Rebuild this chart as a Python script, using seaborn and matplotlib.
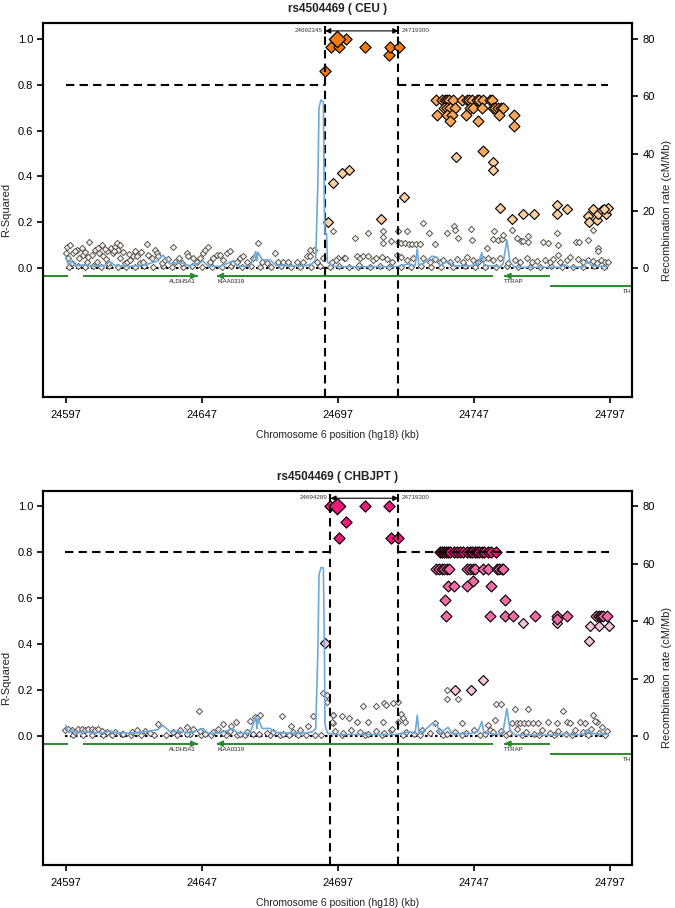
import matplotlib
matplotlib.use("Agg")
import matplotlib.pyplot as plt
import seaborn as sns
import pandas as pd

# ---------------------------------------------------------------- axes / ticks
xticks = [24597, 24647, 24697, 24747, 24797]
r2_ticks = [0.0, 0.2, 0.4, 0.6, 0.8, 1.0]
rec_ticks = [0, 20, 40, 60, 80]
xlim = (24588.9, 24805.1)
r2_lim = (-0.562, 1.068)
rec_scale = 80          # 1.0 r2 <-> 80 cM/Mb

# ---------------------------------------------------------------- genes (kb)
gene_names = ["", "ALDH5A1", "KIAA0319", "TTRAP", "TH"]
gene_start = [24570.0, 24603.3, 24652.5, 24758.1, 24775.0]
gene_end = [24598.0, 24645.5, 24754.1, 24775.0, 24830.0]
gene_strand = ["-", "+", "-", "-", "+"]
gene_row = [0, 0, 0, 0, 1]
gene_label_x = [None, 24635.0, 24652.7, 24758.1, 24801.8]

# ---------------------------------------------------------------- recombination rate (cM/Mb)
rec_pos = [24597.1, 24598.0, 24599.4, 24600.8, 24604.1, 24607.8, 24611.5, 24613.3, 24615.1, 24620.7,
           24626.2, 24630.9, 24632.8, 24635.3, 24639.0, 24642.7, 24647.5, 24649.3, 24653.7, 24658.5,
           24660.3, 24664.7, 24666.9, 24667.3, 24667.7, 24669.2, 24672.1, 24674.3, 24679.4, 24684.9,
           24687.5, 24688.9, 24689.7, 24690.1, 24690.8, 24691.7, 24692.1, 24692.3, 24692.9, 24693.2,
           24696.0, 24718.0, 24719.8, 24723.5, 24725.4, 24726.2, 24726.8, 24729.0, 24731.6, 24733.5,
           24734.5, 24737.5, 24739.0, 24745.6, 24748.5, 24749.9, 24750.7, 24756.6, 24757.7, 24759.1,
           24760.3, 24762.1, 24778.6, 24780.4, 24782.3, 24787.4, 24788.5, 24790.4, 24796.3]
rec_ceu = [4.0, 1.0, 2.5, 0.8, 1.2, 0.6, 1.0, 2.3, 1.0, 0.6,
           1.2, 2.5, 4.6, 1.5, 2.0, 0.8, 2.4, 0.8, 0.6, 2.5,
           0.7, 0.6, 5.8, 2.5, 5.5, 3.0, 2.8, 1.0, 0.8, 0.8,
           1.5, 3.0, 30.0, 56.0, 58.7, 58.0, 20.0, 12.3, 12.0, 2.0,
           0.5, 0.5, 0.8, 1.5, 0.8, 6.7, 1.0, 2.0, 4.2, 3.8,
           0.8, 2.5, 0.8, 0.8, 1.5, 5.4, 1.0, 0.5, 1.5, 9.9,
           2.0, 0.3, 0.3, 1.2, 0.3, 0.5, 2.5, 0.8, 0.5]
rec_asn = [3.7, 1.2, 2.0, 1.0, 1.4, 1.0, 1.2, 1.8, 1.2, 1.0,
           1.4, 2.2, 3.7, 1.5, 1.6, 1.0, 2.6, 1.0, 1.0, 2.5,
           1.0, 0.9, 6.6, 2.5, 6.0, 2.6, 2.6, 1.2, 1.0, 1.0,
           1.4, 2.5, 30.0, 56.0, 58.6, 58.6, 30.0, 4.0, 2.0, 1.0,
           0.5, 0.5, 0.8, 1.5, 0.8, 7.2, 1.0, 2.0, 4.3, 3.8,
           0.8, 3.0, 0.8, 0.8, 1.5, 5.0, 1.0, 0.5, 1.5, 9.5,
           2.0, 0.3, 0.3, 1.0, 0.3, 0.5, 2.2, 0.8, 0.5]

# ---------------------------------------------------------------- CEU SNPs (position kb, r2)
ceu_index = (24696.8, 1.0)
ceu_bounds = (24692.345, 24719.300)
ceu_high = [(24692.3, .862), (24694.4, .966), (24697.6, .964), (24700.0, 1.0), (24707.0, .966),
            (24715.9, .930), (24716.2, .966), (24719.4, .966)]
ceu_mid = [(24733.1, .734), (24735.2, .734), (24736.4, .734), (24737.0, .734), (24738.0, .734),
           (24739.4, .734), (24742.5, .734), (24744.4, .734), (24745.3, .734), (24746.2, .734),
           (24748.0, .734), (24749.0, .734), (24750.5, .734), (24752.9, .734), (24753.5, .734),
           (24736.0, .698), (24737.0, .698), (24738.2, .698), (24740.1, .698), (24745.6, .698),
           (24746.8, .698), (24749.9, .698), (24753.9, .698), (24754.8, .698), (24756.0, .698),
           (24756.9, .698), (24757.8, .698), (24733.6, .669), (24737.0, .669), (24738.8, .669),
           (24744.0, .669), (24756.4, .669), (24761.8, .669), (24738.2, .642), (24748.4, .642),
           (24761.7, .618), (24750.2, .513)]
ceu_light = [(24740.3, .487), (24754.1, .465), (24754.1, .429), (24701.1, .430), (24698.4, .414),
             (24695.4, .373), (24721.3, .310), (24693.5, .203), (24712.8, .214), (24756.6, .264),
             (24761.1, .215), (24765.2, .235), (24769.2, .235), (24777.4, .276), (24777.6, .235),
             (24781.3, .259), (24789.0, .228), (24789.4, .203), (24790.9, .259), (24792.1, .208),
             (24792.7, .235), (24793.9, .254), (24795.5, .235), (24796.4, .264), (24794.8, .260)]
ceu_low_left = [(24597.4, .094), (24598.6, .102), (24597.2, .065), (24598.0, .044), (24599.2, .022),
                (24599.9, .065), (24601.1, .080), (24602.1, .044), (24602.9, .087), (24603.5, .058),
                (24604.8, .029), (24605.7, .112), (24606.6, .058), (24607.8, .080), (24608.4, .029),
                (24609.4, .065), (24610.3, .102), (24610.9, .051), (24612.1, .073), (24612.7, .022),
                (24613.6, .087), (24614.3, .065), (24615.2, .094), (24615.8, .109), (24616.4, .080),
                (24617.0, .044), (24618.8, .022), (24619.7, .029), (24620.7, .036), (24621.9, .051),
                (24623.1, .054), (24624.4, .022), (24625.6, .029), (24626.8, .106), (24627.4, .058),
                (24628.6, .044), (24629.9, .080), (24630.5, .065), (24631.1, .051), (24632.3, .022),
                (24633.5, .036), (24634.8, .039), (24636.4, .094), (24637.2, .029), (24638.8, .044),
                (24639.7, .022), (24641.5, .065), (24642.1, .054), (24644.0, .044), (24645.2, .029),
                (24646.4, .044), (24647.6, .065), (24648.3, .080), (24649.5, .094), (24650.1, .029),
                (24651.3, .044), (24652.5, .058), (24653.8, .058), (24655.0, .036), (24656.2, .065),
                (24657.4, .073), (24658.7, .022), (24659.9, .029), (24661.1, .044), (24662.3, .051),
                (24663.6, .029), (24666.0, .044), (24667.8, .109), (24669.1, .029), (24670.9, .022),
                (24674.0, .068), (24675.2, .029), (24677.0, .025), (24678.9, .029), (24681.9, .025),
                (24684.4, .029), (24685.6, .051), (24686.8, .054), (24688.1, .080), (24689.3, .029),
                (24691.7, .044), (24600.5, .075), (24604.0, .070), (24608.9, .090), (24611.4, .085),
                (24614.8, .075), (24616.9, .100), (24618.2, .070), (24620.2, .060), (24622.6, .075),
                (24624.9, .070), (24611.9, .040), (24605.2, .050)]
ceu_low_right = [(24695.3, .160), (24703.3, .131), (24708.2, .153), (24713.5, .160), (24713.7, .135),
                 (24713.7, .109), (24716.4, .119), (24719.2, .160), (24719.2, .116), (24720.4, .109),
                 (24722.3, .160), (24721.7, .109), (24723.1, .106), (24724.4, .106), (24725.6, .106),
                 (24727.1, .106), (24728.4, .199), (24730.6, .153), (24732.7, .106), (24737.0, .153),
                 (24739.7, .182), (24740.0, .167), (24741.3, .131), (24745.8, .170), (24746.2, .124),
                 (24751.7, .087), (24754.5, .163), (24754.1, .126), (24756.0, .124), (24757.2, .126),
                 (24757.8, .145), (24760.9, .167), (24763.0, .131), (24764.2, .119), (24765.2, .119),
                 (24767.0, .141), (24767.0, .116), (24772.5, .116), (24774.3, .109), (24777.6, .153),
                 (24778.0, .102), (24778.0, .058), (24784.4, .115), (24785.7, .115), (24789.0, .124),
                 (24790.6, .167), (24792.7, .087), (24792.7, .073), (24686.8, .080), (24697.2, .044),
                 (24699.4, .044), (24704.9, .014),
                 (24694.7, .029), (24696.5, .036), (24699.6, .044), (24703.9, .051), (24705.1, .044),
                 (24706.4, .054), (24708.2, .051), (24710.0, .036), (24711.2, .044), (24713.1, .048),
                 (24714.9, .039), (24716.8, .029), (24718.6, .058), (24720.4, .048), (24722.3, .036),
                 (24724.7, .044), (24728.4, .044), (24730.9, .029), (24732.7, .039), (24734.5, .029),
                 (24735.8, .036), (24738.2, .025), (24740.7, .039), (24743.1, .029), (24744.3, .048),
                 (24746.8, .036), (24748.6, .029), (24750.4, .039), (24752.3, .044), (24754.1, .036),
                 (24756.6, .044), (24759.6, .022), (24762.1, .036), (24763.9, .029), (24766.4, .044),
                 (24768.2, .025), (24770.1, .032), (24773.1, .036), (24775.0, .025), (24776.2, .039),
                 (24778.6, .029), (24781.1, .036), (24782.3, .048), (24785.4, .039), (24787.2, .025),
                 (24789.0, .036), (24790.9, .032), (24792.1, .022), (24793.6, .036), (24795.2, .029),
                 (24796.4, .025)]
ceu_base = [(24598.3, .006), (24601.6, .010), (24604.3, .004), (24607.1, .008), (24609.9, .005),
            (24613.0, .009), (24616.1, .004), (24619.2, .007), (24622.4, .005), (24625.9, .010),
            (24629.2, .004), (24632.9, .008), (24636.0, .006), (24640.3, .004), (24643.4, .009),
            (24647.0, .005), (24650.8, .007), (24654.3, .004), (24657.9, .009), (24661.8, .005),
            (24665.2, .008), (24668.5, .004), (24672.4, .006), (24676.1, .009), (24680.0, .005),
            (24683.3, .007), (24687.0, .004), (24690.4, .008), (24694.0, .006), (24697.5, .009),
            (24701.0, .004), (24704.6, .007), (24708.9, .005), (24712.4, .009), (24716.0, .004),
            (24720.1, .007), (24724.0, .005), (24727.7, .009), (24731.2, .004), (24735.0, .007),
            (24739.3, .005), (24743.8, .008), (24747.5, .004), (24751.2, .007), (24755.3, .005),
            (24759.0, .009), (24763.2, .004), (24767.6, .007), (24771.4, .005), (24775.5, .008),
            (24779.2, .004), (24783.4, .007), (24787.0, .005), (24791.0, .009), (24794.8, .004)]

# ---------------------------------------------------------------- CHB+JPT SNPs (position kb, r2)
asn_index = (24696.8, 1.0)
asn_bounds = (24694.289, 24719.300)
asn_high = [(24694.1, 1.0), (24707.0, 1.0), (24715.8, 1.0), (24700.0, .930), (24697.5, .860),
            (24716.4, .860), (24719.3, .860),
            (24734.6, .80), (24735.3, .80), (24736.0, .80), (24736.7, .80), (24737.5, .80),
            (24738.4, .80), (24739.6, .80), (24740.8, .80), (24742.0, .80), (24743.1, .80),
            (24744.3, .80), (24745.4, .80), (24746.4, .80), (24747.3, .80), (24748.1, .80),
            (24749.0, .80), (24749.8, .80), (24750.8, .80), (24752.3, .80), (24753.3, .80),
            (24755.0, .80)]
asn_mid = [(24733.1, .725), (24734.0, .725), (24735.2, .725), (24736.0, .725), (24737.0, .725),
           (24738.0, .725), (24744.4, .725), (24745.4, .725), (24746.8, .725), (24747.4, .725),
           (24750.5, .725), (24752.3, .725), (24755.4, .725), (24756.4, .725), (24757.2, .725),
           (24757.8, .725), (24746.6, .676), (24737.4, .652), (24739.8, .652), (24744.6, .652),
           (24753.2, .652), (24736.4, .591), (24758.5, .591), (24736.8, .524), (24753.0, .524),
           (24758.5, .524), (24761.2, .524), (24769.5, .524), (24777.4, .524), (24781.1, .524),
           (24791.9, .524), (24792.8, .524), (24793.6, .524), (24794.6, .524), (24795.8, .524),
           (24777.7, .511)]
asn_light = [(24765.2, .493), (24777.4, .493), (24789.5, .478), (24792.8, .478), (24796.7, .478),
             (24789.1, .414), (24692.3, .405), (24740.0, .202), (24745.8, .202), (24750.2, .243)]
asn_low_left = [(24646.2, .109), (24631.1, .054), (24641.5, .039), (24654.7, .054), (24657.8, .042),
                (24659.5, .061), (24664.7, .064), (24666.6, .083), (24668.4, .090), (24667.2, .076),
                (24676.4, .086), (24679.8, .042), (24686.2, .042), (24687.8, .086), (24691.6, .187),
                (24693.2, .177), (24693.0, .148), (24695.4, .090), (24695.2, .057),
                (24596.8, .025), (24598.0, .032), (24599.2, .025), (24600.5, .017), (24601.7, .028),
                (24602.9, .032), (24604.1, .025), (24605.3, .028), (24606.6, .032), (24607.8, .025),
                (24609.0, .028), (24610.3, .022), (24612.1, .017), (24615.1, .017), (24618.2, .010),
                (24621.3, .017), (24623.1, .025), (24626.2, .020), (24628.0, .012), (24636.6, .017),
                (24639.0, .025), (24641.5, .010), (24643.9, .032), (24646.4, .022), (24648.2, .010),
                (24651.3, .017), (24653.1, .032), (24654.9, .013), (24657.4, .022), (24661.1, .010),
                (24663.5, .017), (24666.0, .010), (24670.9, .013), (24673.3, .017), (24677.0, .010),
                (24680.7, .017), (24683.1, .025)]
asn_low_right = [(24737.0, .199), (24737.2, .159), (24741.3, .161), (24706.4, .129), (24711.2, .129),
                 (24714.1, .144), (24714.7, .134), (24717.4, .144), (24719.2, .148), (24755.0, .141),
                 (24756.8, .141), (24762.1, .119), (24767.0, .119), (24779.9, .109), (24790.9, .093),
                 (24698.4, .086), (24701.1, .080), (24695.3, .090), (24694.7, .061), (24703.9, .061),
                 (24708.2, .061), (24713.7, .061), (24716.5, .025), (24720.4, .097), (24721.0, .076),
                 (24721.7, .061), (24719.2, .061), (24732.7, .057), (24742.5, .057), (24754.7, .071),
                 (24752.3, .046), (24752.9, .025), (24760.9, .057), (24762.7, .057), (24763.9, .057),
                 (24765.4, .057), (24767.0, .057), (24768.8, .057), (24770.7, .057), (24774.3, .061),
                 (24777.4, .057), (24781.1, .061), (24782.3, .057), (24786.0, .061), (24787.8, .057),
                 (24792.1, .061), (24793.9, .039), (24791.5, .064),
                 (24696.0, .020), (24699.0, .012), (24702.0, .025), (24705.0, .017), (24708.0, .010),
                 (24711.0, .022), (24714.0, .013), (24717.0, .030), (24722.0, .017), (24725.0, .010),
                 (24728.0, .025), (24731.0, .013), (24734.0, .020), (24737.0, .010), (24740.0, .017),
                 (24744.0, .012), (24747.0, .025), (24751.0, .010), (24754.0, .017), (24757.0, .022),
                 (24760.0, .012), (24763.0, .030), (24766.0, .017), (24769.0, .010), (24772.0, .025),
                 (24775.0, .013), (24778.0, .020), (24781.0, .010), (24784.0, .025), (24787.0, .017),
                 (24790.0, .030), (24793.0, .012), (24796.0, .020)]
asn_base = [(24599.8, .004), (24603.3, .006), (24606.9, .003), (24610.8, .006), (24614.2, .004),
            (24617.6, .007), (24621.0, .003), (24624.9, .006), (24629.5, .004), (24633.8, .006),
            (24637.9, .003), (24642.6, .007), (24646.9, .004), (24650.3, .006), (24655.8, .003),
            (24659.9, .006), (24663.0, .004), (24667.9, .007), (24672.0, .003), (24675.6, .006),
            (24679.0, .004), (24682.3, .006), (24685.2, .003), (24688.6, .006), (24690.9, .004),
            (24698.7, .005), (24706.9, .004), (24713.2, .006), (24720.9, .004), (24727.1, .006),
            (24735.5, .004), (24742.8, .006), (24749.2, .004), (24758.8, .006), (24764.5, .004),
            (24771.0, .006), (24776.4, .004), (24783.1, .006), (24788.9, .004), (24795.0, .006)]

# ---------------------------------------------------------------- styling
BIN_ORDER = ["low", "light", "mid", "high"]
BIN_SIZE = {"low": 10, "light": 26, "mid": 31, "high": 33}
BIN_EDGE = {"low": "#555555", "light": "black", "mid": "black", "high": "black"}
BIN_LW = {"low": 0.7, "light": 0.8, "mid": 0.8, "high": 0.8}
ceu_colours = {"low": "#fcf2e8", "light": "#fdcf9f", "mid": "#f8a65c", "high": "#f07a14"}
asn_colours = {"low": "#fcedf4", "light": "#f8c4dc", "mid": "#f06aa6", "high": "#ec1a78"}
GREEN = "#2b8a2b"
REC_BLUE = "#6fa9da"
DASH = (0, (4, 2.5))
DOT = (0, (1.2, 1.2))


def snp_frame(*groups):
    pairs = [p for g in groups for p in g]
    df = pd.DataFrame(pairs, columns=["pos", "r2"])
    df["bin"] = pd.cut(df["r2"], bins=[-0.01, 0.2, 0.5, 0.8, 1.01], right=False, labels=BIN_ORDER)
    return df


def draw_genes(ax):
    rows_y = [-0.034, -0.077]
    for name, s, e, strand, row, lx in zip(gene_names, gene_start, gene_end, gene_strand,
                                           gene_row, gene_label_x):
        y = rows_y[row]
        ax.plot([s, e], [y, y], color=GREEN, lw=1.4, solid_capstyle="butt", zorder=2)
        tip, step = (e, 2.5) if strand == "+" else (s, -2.5)
        if xlim[0] < tip < xlim[1]:
            ax.annotate("", xy=(tip, y), xytext=(tip - step, y),
                        arrowprops=dict(arrowstyle="-|>", color=GREEN, lw=1.4,
                                        mutation_scale=8, shrinkA=0, shrinkB=0), zorder=2)
        if name:
            ax.text(lx, y - 0.026, name, fontsize=4.3, ha="left", va="center",
                    color="#222222", clip_on=True)


def draw_panel(ax, title, df, index, bounds, rec, colours):
    for b, z in zip(BIN_ORDER, [3.0, 3.1, 3.2, 3.3]):
        sub = df[df["bin"] == b]
        sns.scatterplot(data=sub, x="pos", y="r2", ax=ax, marker="D", s=BIN_SIZE[b],
                        color=colours[b], edgecolor=BIN_EDGE[b], linewidth=BIN_LW[b],
                        zorder=z, legend=False)
    sns.scatterplot(x=[index[0]], y=[index[1]], ax=ax, marker="D", s=70,
                    color=colours["high"], edgecolor="black", linewidth=0.9,
                    zorder=3.5, legend=False)

    lo, hi = df["pos"].min(), df["pos"].max()
    ax.hlines(0.8, lo, bounds[0], colors="black", lw=1.5, linestyles=DASH, zorder=4)
    ax.hlines(0.8, bounds[1], hi, colors="black", lw=1.5, linestyles=DASH, zorder=4)
    ax.hlines(0.0, lo, hi, colors="black", lw=1.5, linestyles=DOT, zorder=2.5)
    ax.vlines(bounds, r2_lim[0], 1.035, colors="black", lw=1.5, linestyles=DASH, zorder=5)
    ax.vlines(bounds, 1.02, 1.055, colors="black", lw=1.5, zorder=5)
    ax.annotate("", xy=(bounds[1], 1.035), xytext=(bounds[0], 1.035),
                arrowprops=dict(arrowstyle="<|-|>", color="black", lw=0.8,
                                mutation_scale=8, shrinkA=0, shrinkB=0), zorder=5)
    ax.text(bounds[0] - 1.0, 1.037, f"{round(bounds[0] * 1000)}", fontsize=4.5,
            ha="right", va="center", color="#333333")
    ax.text(bounds[1] + 1.0, 1.037, f"{round(bounds[1] * 1000)}", fontsize=4.5,
            ha="left", va="center", color="#333333")

    draw_genes(ax)

    ax.set_xlim(*xlim)
    ax.set_ylim(*r2_lim)
    ax.set_xticks(xticks)
    ax.set_xticklabels([str(t) for t in xticks])
    ax.set_yticks(r2_ticks)
    ax.set_yticklabels([f"{v:.1f}" for v in r2_ticks])
    ax.tick_params(axis="x", direction="out", length=4.5, width=1.2, labelsize=8, pad=5)
    ax.tick_params(axis="y", direction="out", length=4.5, width=1.2, labelsize=8, pad=3)
    ax.set_xlabel("Chromosome 6 position (hg18) (kb)", fontsize=7.5, labelpad=7)
    ax.set_ylabel("R-Squared", fontsize=8, labelpad=5)
    ax.set_title(title, fontsize=8.5, fontweight="bold", pad=8)

    ax2 = ax.twinx()
    sns.lineplot(x=rec_pos, y=rec, ax=ax2, color=REC_BLUE, linewidth=1.2,
                 estimator=None, sort=False)
    ax2.set_ylim(r2_lim[0] * rec_scale, r2_lim[1] * rec_scale)
    ax2.set_yticks(rec_ticks)
    ax2.set_yticklabels([str(t) for t in rec_ticks])
    ax2.tick_params(axis="y", direction="out", length=4.5, width=1.2, labelsize=8, pad=3)
    ax2.set_ylabel("Recombination rate (cM/Mb)", fontsize=8, labelpad=5)
    for a in (ax, ax2):
        for sp in a.spines.values():
            sp.set_linewidth(1.5)
            sp.set_color("black")


sns.set_theme(style="ticks", rc={"axes.edgecolor": "black", "xtick.color": "black",
                                 "ytick.color": "black", "text.color": "#222222",
                                 "axes.labelcolor": "#222222"})
plt.rcParams["font.family"] = ["Liberation Sans", "DejaVu Sans"]

fig = plt.figure(figsize=(6.75, 9.08), dpi=100)
ax_top = fig.add_axes([0.0644, 0.5628, 0.872, 0.4115])
ax_bot = fig.add_axes([0.0644, 0.0474, 0.872, 0.4122])

draw_panel(ax_top, "rs4504469 ( CEU )",
           snp_frame(ceu_base, ceu_low_left, ceu_low_right, ceu_light, ceu_mid, ceu_high),
           ceu_index, ceu_bounds, rec_ceu, ceu_colours)
draw_panel(ax_bot, "rs4504469 ( CHBJPT )",
           snp_frame(asn_base, asn_low_left, asn_low_right, asn_light, asn_mid, asn_high),
           asn_index, asn_bounds, rec_asn, asn_colours)

fig.savefig("out.png", dpi=100)
